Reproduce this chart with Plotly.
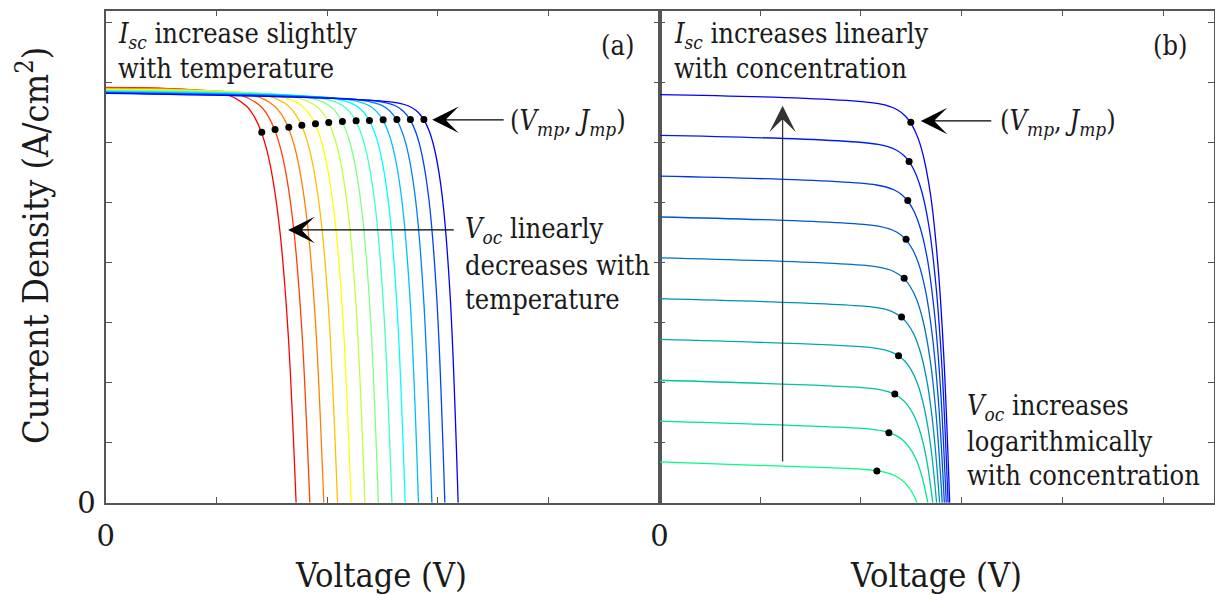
import plotly.graph_objects as go

# ---------------- data ----------------
# Panel (a): I-V curves at 13 temperatures (hot/red -> cold/blue)
VA = [
    [0, 1.087, 1.267, 1.340, 1.403, 1.457, 1.511, 1.575, 1.647, 1.719],
    [0, 1.211, 1.391, 1.464, 1.527, 1.581, 1.635, 1.699, 1.771, 1.843],
    [0, 1.337, 1.517, 1.590, 1.653, 1.707, 1.761, 1.825, 1.897, 1.969],
    [0, 1.461, 1.641, 1.714, 1.777, 1.831, 1.885, 1.949, 2.021, 2.093],
    [0, 1.584, 1.764, 1.837, 1.900, 1.954, 2.008, 2.072, 2.144, 2.216],
    [0, 1.708, 1.888, 1.961, 2.024, 2.078, 2.132, 2.196, 2.268, 2.340],
    [0, 1.830, 2.010, 2.083, 2.146, 2.200, 2.254, 2.318, 2.390, 2.462],
    [0, 1.952, 2.132, 2.205, 2.268, 2.322, 2.376, 2.440, 2.512, 2.584],
    [0, 2.072, 2.252, 2.325, 2.388, 2.442, 2.496, 2.560, 2.632, 2.704],
    [0, 2.192, 2.372, 2.445, 2.508, 2.562, 2.616, 2.680, 2.752, 2.824],
    [0, 2.313, 2.493, 2.566, 2.629, 2.683, 2.737, 2.801, 2.873, 2.945],
    [0, 2.430, 2.610, 2.683, 2.746, 2.800, 2.854, 2.918, 2.990, 3.062],
    [0, 2.550, 2.730, 2.803, 2.866, 2.920, 2.974, 3.038, 3.110, 3.182],
]
JA = [
    [6.920, 6.801, 6.612, 6.436, 6.185, 5.856, 5.367, 4.487, 2.827, 0],
    [6.912, 6.793, 6.616, 6.448, 6.207, 5.886, 5.406, 4.533, 2.868, 0],
    [6.903, 6.784, 6.619, 6.460, 6.227, 5.917, 5.446, 4.582, 2.913, 0],
    [6.895, 6.776, 6.622, 6.470, 6.247, 5.946, 5.485, 4.630, 2.957, 0],
    [6.887, 6.767, 6.623, 6.480, 6.267, 5.975, 5.525, 4.679, 3.003, 0],
    [6.878, 6.758, 6.625, 6.490, 6.286, 6.006, 5.566, 4.731, 3.053, 0],
    [6.870, 6.747, 6.625, 6.499, 6.305, 6.034, 5.605, 4.781, 3.103, 0],
    [6.862, 6.737, 6.625, 6.506, 6.322, 6.062, 5.645, 4.834, 3.154, 0],
    [6.853, 6.727, 6.624, 6.513, 6.340, 6.090, 5.686, 4.889, 3.209, 0],
    [6.845, 6.716, 6.622, 6.520, 6.356, 6.118, 5.727, 4.942, 3.264, 0],
    [6.837, 6.704, 6.619, 6.525, 6.371, 6.144, 5.767, 4.996, 3.321, 0],
    [6.828, 6.693, 6.617, 6.530, 6.387, 6.171, 5.808, 5.055, 3.382, 0],
    [6.820, 6.681, 6.613, 6.533, 6.400, 6.196, 5.847, 5.111, 3.444, 0],
]
MPP_A_V = [1.409, 1.529, 1.653, 1.771, 1.894, 2.014, 2.137, 2.261, 2.381, 2.505, 2.629, 2.751, 2.873]
MPP_A_J = [6.173, 6.217, 6.257, 6.290, 6.312, 6.333, 6.350, 6.362, 6.367, 6.378, 6.383, 6.383, 6.383]
COLORS_A = ["rgb(255,0,0)", "rgb(255,64,0)", "rgb(255,128,0)", "rgb(255,191,0)",
            "rgb(255,255,0)", "rgb(191,255,64)", "rgb(128,255,128)", "rgb(64,255,191)",
            "rgb(0,255,255)", "rgb(0,191,255)", "rgb(0,128,255)", "rgb(0,64,255)",
            "rgb(0,0,255)"]

# Panel (b): I-V curves at 10 concentrations (1x bottom -> 10x top)
VB = [
    [0, 1.863, 2.042, 2.121, 2.181, 2.240, 2.300, 2.369, 2.439, 2.498, 2.558],
    [0, 1.969, 2.148, 2.227, 2.287, 2.346, 2.406, 2.475, 2.545, 2.604, 2.664],
    [0, 2.019, 2.197, 2.277, 2.336, 2.396, 2.455, 2.525, 2.594, 2.654, 2.713],
    [0, 2.057, 2.235, 2.315, 2.374, 2.434, 2.493, 2.563, 2.632, 2.692, 2.751],
    [0, 2.086, 2.265, 2.344, 2.404, 2.463, 2.523, 2.592, 2.662, 2.721, 2.781],
    [0, 2.112, 2.291, 2.370, 2.430, 2.489, 2.549, 2.618, 2.688, 2.747, 2.807],
    [0, 2.134, 2.313, 2.392, 2.451, 2.511, 2.571, 2.640, 2.709, 2.769, 2.828],
    [0, 2.153, 2.331, 2.411, 2.470, 2.530, 2.589, 2.659, 2.728, 2.788, 2.847],
    [0, 2.171, 2.349, 2.429, 2.488, 2.548, 2.607, 2.677, 2.746, 2.806, 2.865],
    [0, 2.187, 2.365, 2.445, 2.504, 2.564, 2.623, 2.693, 2.762, 2.822, 2.881],
]
JB = [
    [0.680, 0.571, 0.553, 0.540, 0.526, 0.505, 0.475, 0.419, 0.326, 0.199, 0],
    [1.360, 1.242, 1.215, 1.191, 1.163, 1.121, 1.057, 0.936, 0.732, 0.448, 0],
    [2.040, 1.916, 1.880, 1.845, 1.804, 1.741, 1.643, 1.456, 1.140, 0.698, 0],
    [2.720, 2.591, 2.545, 2.500, 2.445, 2.361, 2.229, 1.977, 1.549, 0.949, 0],
    [3.400, 3.266, 3.211, 3.155, 3.087, 2.981, 2.815, 2.498, 1.958, 1.200, 0],
    [4.080, 3.941, 3.877, 3.811, 3.729, 3.602, 3.402, 3.019, 2.367, 1.450, 0],
    [4.760, 4.617, 4.543, 4.467, 4.371, 4.223, 3.989, 3.540, 2.776, 1.701, 0],
    [5.440, 5.293, 5.210, 5.123, 5.014, 4.844, 4.576, 4.062, 3.185, 1.952, 0],
    [6.120, 5.969, 5.876, 5.779, 5.656, 5.465, 5.163, 4.583, 3.594, 2.203, 0],
    [6.800, 6.645, 6.543, 6.435, 6.299, 6.086, 5.750, 5.105, 4.003, 2.454, 0],
]
MPP_B_V = [2.158, 2.277, 2.336, 2.373, 2.403, 2.429, 2.448, 2.465, 2.478, 2.495]
MPP_B_J = [0.528, 1.167, 1.812, 2.450, 3.095, 3.740, 4.390, 5.033, 5.683, 6.340]
COLORS_B = ["rgb(0,255,128)", "rgb(0,227,142)", "rgb(0,198,156)", "rgb(0,170,170)",
            "rgb(0,142,184)", "rgb(0,113,198)", "rgb(0,85,213)", "rgb(0,57,227)",
            "rgb(0,28,241)", "rgb(0,0,255)"]

X_TICKS_A = [0, 1, 2, 3, 4, 5]
X_TICKS_B = [0, 1, 2, 3, 4, 5]
Y_TICKS = [0, 1, 2, 3, 4, 5, 6, 7, 8]
LABELLED_TICK = [0]

# ---------------- layout geometry (pixels) ----------------
W, H = 1215, 595
LEFT, MID, RIGHT = 105.7, 659.5, 1213.5
TOP, BOT = 10.5, 502.7
FONT = "DejaVu Serif"
FONT_C = "DejaVu Serif Condensed"
AX = "#555555"
TXT = "#1a1a1a"


def px(x):
    return x / W


def py(y):
    return 1 - y / H


fig = go.Figure()

for v, j, c in zip(VA, JA, COLORS_A):
    fig.add_trace(go.Scatter(x=v, y=j, mode="lines", xaxis="x", yaxis="y",
                             line=dict(color=c, width=1.3, shape="spline", smoothing=1),
                             hoverinfo="skip", showlegend=False))
fig.add_trace(go.Scatter(x=MPP_A_V, y=MPP_A_J, mode="markers", xaxis="x", yaxis="y",
                         marker=dict(color="black", size=7), hoverinfo="skip", showlegend=False))

for v, j, c in zip(VB, JB, COLORS_B):
    fig.add_trace(go.Scatter(x=v, y=j, mode="lines", xaxis="x2", yaxis="y2",
                             line=dict(color=c, width=1.3, shape="spline", smoothing=1),
                             hoverinfo="skip", showlegend=False))
fig.add_trace(go.Scatter(x=MPP_B_V, y=MPP_B_J, mode="markers", xaxis="x2", yaxis="y2",
                         marker=dict(color="black", size=7), hoverinfo="skip", showlegend=False))

frame = dict(ticks="inside", ticklen=6, tickwidth=1.2, tickcolor=AX,
             showline=True, linecolor=AX, linewidth=1.6, mirror="ticks",
             showgrid=False, zeroline=False, fixedrange=True,
             showticklabels=False, automargin=False)
label = dict(ticks="", showline=False, showgrid=False, zeroline=False,
             fixedrange=True, automargin=False, tickmode="array",
             tickvals=LABELLED_TICK, ticktext=["0"],
             tickfont=dict(family=FONT, size=29, color=TXT))

fig.update_layout(
    width=W, height=H,
    font=dict(family=FONT),
    margin=dict(l=0, r=0, t=0, b=0, autoexpand=False),
    paper_bgcolor="white", plot_bgcolor="white",
    xaxis=dict(domain=[px(LEFT), px(MID)], range=[0, 5], anchor="y",
               tickvals=X_TICKS_A, **frame),
    yaxis=dict(domain=[py(BOT), py(TOP)], range=[0, 8.2], anchor="x",
               tickvals=Y_TICKS, **frame),
    xaxis2=dict(domain=[px(MID), px(RIGHT)], range=[0, 5.5], anchor="y2",
                tickvals=X_TICKS_B, **frame),
    yaxis2=dict(domain=[py(BOT), py(TOP)], range=[0, 8.2], anchor="x2",
                tickvals=Y_TICKS, **frame),
    xaxis3=dict(overlaying="x", range=[0, 5], anchor="y", side="bottom",
                ticklabelstandoff=13, **label),
    yaxis3=dict(overlaying="y", range=[0, 8.2], anchor="x", side="left",
                ticklabelstandoff=9, **label),
    xaxis4=dict(overlaying="x2", range=[0, 5.5], anchor="y2", side="bottom",
                ticklabelstandoff=13, **label),
)
fig.add_trace(go.Scatter(x=[None], y=[None], xaxis="x3", yaxis="y3",
                         showlegend=False, hoverinfo="skip"))
fig.add_trace(go.Scatter(x=[None], y=[None], xaxis="x4", yaxis="y2",
                         showlegend=False, hoverinfo="skip"))

ann = []


def text(x, y, s, size=27, xanchor="left"):
    ann.append(dict(x=px(x), y=py(y), xref="paper", yref="paper", text=s,
                    showarrow=False, xanchor=xanchor, yanchor="middle",
                    font=dict(family=FONT_C, size=size, color=TXT)))


ISC = "<i>I</i><sub><i>sc</i></sub>"
VOC = "<i>V</i><sub><i>oc</i></sub>"
MPP = "(<i>V</i><sub><i>mp</i></sub>, <i>J</i><sub><i>mp</i></sub>)"

# panel (a)
text(116, 35, ISC + " increase slightly")
text(116, 68, "with temperature")
text(617, 46, "(a)", xanchor="center")
text(508, 123, MPP)
text(463, 231, VOC + " linearly")
text(463, 265, "decreases with")
text(463, 299, "temperature")
# panel (b)
text(672, 35, ISC + " increases linearly")
text(672, 68, "with concentration")
text(1170, 46, "(b)", xanchor="center")
text(998, 123, MPP)
text(965, 407, VOC + " increases")
text(965, 441, "logarithmically")
text(965, 475, "with concentration")

# axis titles
text(381, 575, "Voltage (V)", size=34, xanchor="center")
text(936, 575, "Voltage (V)", size=34, xanchor="center")
ann.append(dict(x=px(33), y=py(246), xref="paper", yref="paper",
                text="Current Density (A/cm<sup>2</sup>)", textangle=-90,
                showarrow=False, xanchor="center", yanchor="middle",
                font=dict(family=FONT_C, size=36, color=TXT)))


def arrow(x, y, ax, ay, xr, yr, color="black"):
    ann.append(dict(x=x, y=y, ax=ax, ay=ay, xref=xr, yref=yr, axref=xr, ayref=yr,
                    text="", showarrow=True, arrowhead=3, arrowsize=3.4,
                    arrowwidth=1.3, arrowcolor=color, standoff=0, startstandoff=0))


arrow(2.948, 6.378, 3.607, 6.378, "x", "y")
arrow(1.647, 4.545, 3.156, 4.545, "x", "y")
arrow(2.594, 6.36, 3.309, 6.36, "x2", "y2")
arrow(1.222, 6.612, 1.222, 0.662, "x2", "y2", "#333333")

fig.update_layout(annotations=ann)
fig.write_html("out.html")
